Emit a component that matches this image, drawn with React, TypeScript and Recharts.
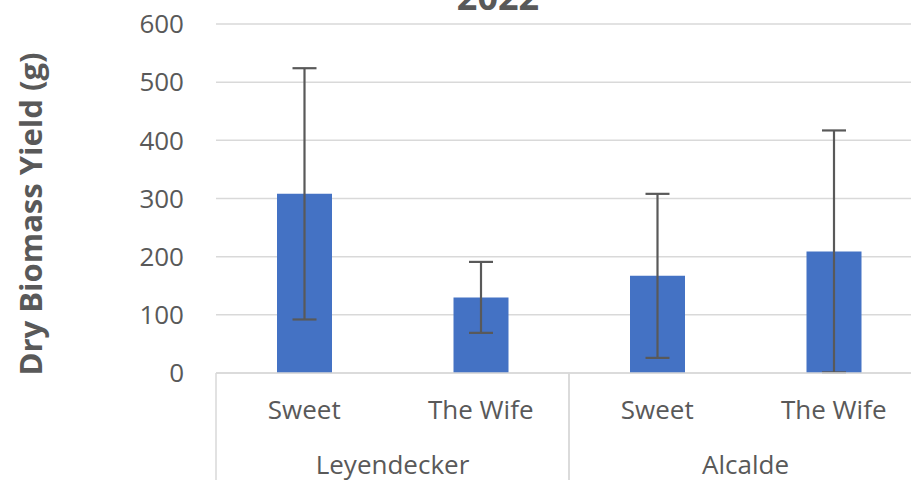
import { Bar, BarChart, CartesianGrid, ErrorBar, XAxis, YAxis } from "recharts"

const varieties = ["Sweet", "The Wife", "Sweet", "The Wife"]
const locations = ["Leyendecker", "Leyendecker", "Alcalde", "Alcalde"]
const yieldMeans = [308, 130, 167, 209]
const yieldErrors = [216, 61, 141, 208]
const yTicks = [0, 100, 200, 300, 400, 500, 600]

const FONT = "'Open Sans', sans-serif"
const TEXT = "#595959"
const GRID = "#d9d9d9"
const VARIETY_AXIS_H = 55
const LOCATION_AXIS_H = 52

const chartData = varieties.map((variety, i) => ({
  variety,
  location: locations[i],
  value: yieldMeans[i],
  err: yieldErrors[i],
}))

// second category level: location name plus the divider lines of the group box
function LocationTick(props: any) {
  const { x, y, payload } = props
  const half = payload.offset ?? 0
  const top = y - VARIETY_AXIS_H
  const bottom = y + LOCATION_AXIS_H
  return (
    <g>
      <line x1={x - half} x2={x - half} y1={top} y2={bottom} stroke={GRID} strokeWidth={1.5} />
      <line x1={x + half} x2={x + half} y1={top} y2={bottom} stroke={GRID} strokeWidth={1.5} />
      <text x={x} y={y + 28} textAnchor="middle" dy="0.71em" fill={TEXT} fontSize={26} fontFamily={FONT}>
        {payload.value}
      </text>
    </g>
  )
}

function Titles() {
  return (
    <g>
      <text x={498} y={9.5} textAnchor="middle" fill={TEXT} fontSize={36} fontWeight={700} fontFamily={FONT}>
        2022
      </text>
      <text
        transform="translate(31,214) rotate(-90)"
        textAnchor="middle"
        dy="0.35em"
        fill={TEXT}
        fontSize={31}
        fontWeight={700}
        fontFamily={FONT}
      >
        Dry Biomass Yield (g)
      </text>
    </g>
  )
}

export default function App() {
  return (
    <div style={{ position: "absolute", left: 0, top: 0, width: 911, height: 480, overflow: "hidden", background: "#fff" }}>
      <BarChart
        width={922}
        height={480}
        data={chartData}
        margin={{ top: 24, right: 0, left: 0, bottom: 0 }}
        style={{ fontFamily: FONT }}
      >
        <CartesianGrid vertical={false} stroke={GRID} strokeWidth={1.5} />
        <YAxis
          width={216}
          domain={[0, 600]}
          ticks={yTicks}
          axisLine={false}
          tickLine={false}
          tickMargin={26}
          tick={{ fill: TEXT, fontSize: 26, fontFamily: FONT }}
          label={{ content: () => <Titles /> }}
        />
        <XAxis
          xAxisId={0}
          dataKey="variety"
          height={VARIETY_AXIS_H}
          axisLine={{ stroke: GRID, strokeWidth: 1.5 }}
          tickLine={false}
          tickMargin={22}
          tick={{ fill: TEXT, fontSize: 26, fontFamily: FONT }}
        />
        <XAxis
          xAxisId="loc"
          dataKey="location"
          allowDuplicatedCategory={false}
          height={LOCATION_AXIS_H}
          axisLine={false}
          tickLine={false}
          tickSize={0}
          tickMargin={0}
          tick={<LocationTick />}
        />
        <Bar dataKey="value" xAxisId={0} fill="#4472C4" barSize={55} isAnimationActive={false}>
          <ErrorBar dataKey="err" width={12} stroke="#595959" strokeWidth={2.2} />
        </Bar>
      </BarChart>
    </div>
  )
}
